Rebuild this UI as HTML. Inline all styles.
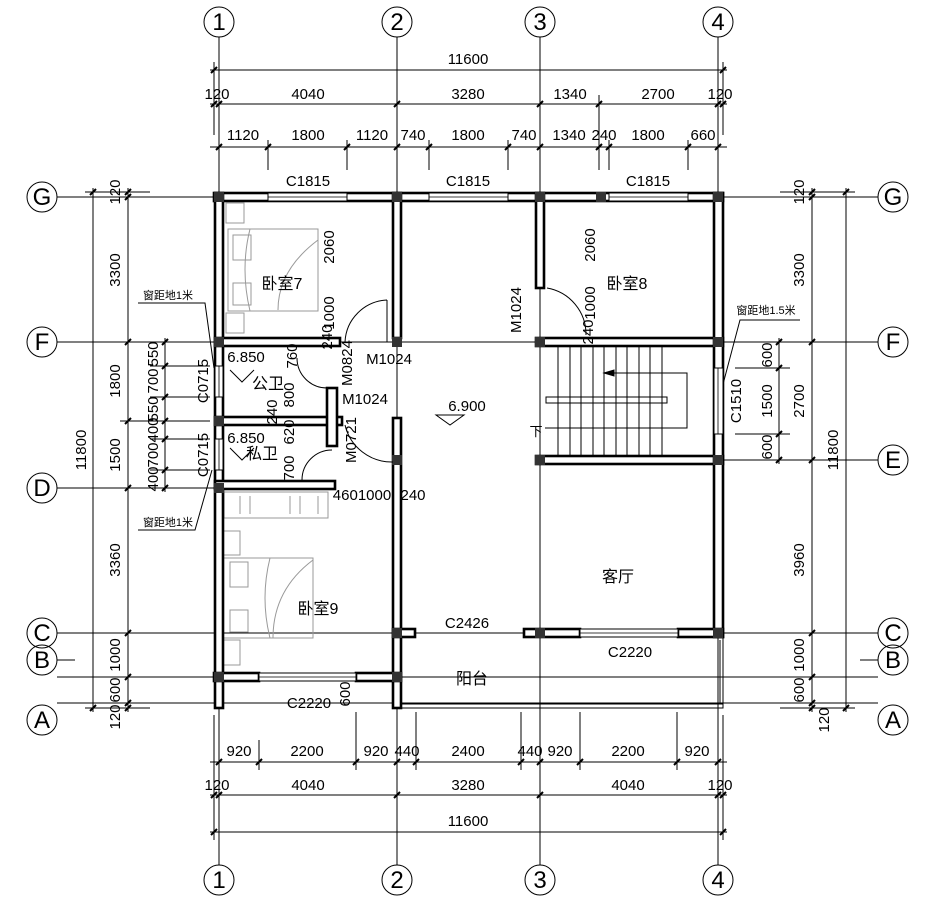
<!DOCTYPE html>
<html><head><meta charset="utf-8"><style>
body{margin:0;background:#fff}
svg{display:block}
text{font-family:"Liberation Sans Narrow","Liberation Sans","Noto Sans CJK SC",sans-serif;fill:#000}
.d{font-size:15px}
.c{font-family:"Liberation Serif",serif;font-size:24px}
.r{font-size:16px}
.s{font-size:11px}
</style></head><body>
<svg width="937" height="922" viewBox="0 0 937 922" xmlns="http://www.w3.org/2000/svg">
<g stroke="#000" stroke-width="1" fill="none">
<line x1="219" y1="37" x2="219" y2="865"/><line x1="397" y1="37" x2="397" y2="865"/>
<line x1="540" y1="37" x2="540" y2="865"/><line x1="718" y1="37" x2="718" y2="865"/>
<line x1="57" y1="197" x2="878" y2="197"/><line x1="57" y1="342" x2="878" y2="342"/>
<line x1="540" y1="460" x2="878" y2="460"/><line x1="57" y1="488" x2="219" y2="488"/>
<line x1="57" y1="633" x2="878" y2="633"/><line x1="57" y1="677" x2="878" y2="677"/>
<line x1="57" y1="703" x2="878" y2="703"/>
<line x1="57" y1="660" x2="75" y2="660"/><line x1="860" y1="660" x2="878" y2="660"/>
<circle cx="219" cy="22" r="15"/><circle cx="397" cy="22" r="15"/><circle cx="540" cy="22" r="15"/><circle cx="718" cy="22" r="15"/>
<circle cx="219" cy="880" r="15"/><circle cx="397" cy="880" r="15"/><circle cx="540" cy="880" r="15"/><circle cx="718" cy="880" r="15"/>
<circle cx="42" cy="197" r="15"/><circle cx="42" cy="342" r="15"/><circle cx="42" cy="488" r="15"/><circle cx="42" cy="633" r="15"/><circle cx="42" cy="660" r="15"/><circle cx="42" cy="720" r="15"/>
<circle cx="893" cy="197" r="15"/><circle cx="893" cy="342" r="15"/><circle cx="893" cy="460" r="15"/><circle cx="893" cy="633" r="15"/><circle cx="893" cy="660" r="15"/><circle cx="893" cy="720" r="15"/>
<line x1="210" y1="70" x2="727" y2="70"/><line x1="210" y1="104" x2="727" y2="104"/><line x1="210" y1="147" x2="727" y2="147"/>
<line x1="214" y1="62" x2="214" y2="135"/><line x1="723" y1="62" x2="723" y2="135"/>
<line x1="268" y1="140" x2="268" y2="170"/><line x1="347" y1="140" x2="347" y2="170"/><line x1="429" y1="140" x2="429" y2="170"/><line x1="508" y1="140" x2="508" y2="170"/><line x1="599" y1="95" x2="599" y2="170"/><line x1="609" y1="140" x2="609" y2="170"/><line x1="688" y1="140" x2="688" y2="170"/>
<line x1="210" y1="762" x2="727" y2="762"/><line x1="210" y1="795" x2="727" y2="795"/><line x1="210" y1="832" x2="727" y2="832"/>
<line x1="214" y1="715" x2="214" y2="840"/><line x1="723" y1="715" x2="723" y2="840"/>
<line x1="259" y1="740" x2="259" y2="770"/><line x1="356" y1="712" x2="356" y2="770"/><line x1="416" y1="712" x2="416" y2="770"/><line x1="521" y1="712" x2="521" y2="770"/><line x1="580" y1="712" x2="580" y2="770"/><line x1="677" y1="712" x2="677" y2="770"/>
<line x1="93" y1="188" x2="93" y2="712"/><line x1="128" y1="188" x2="128" y2="712"/><line x1="165" y1="338" x2="165" y2="492"/>
<line x1="85" y1="192" x2="150" y2="192"/><line x1="85" y1="708" x2="150" y2="708"/>
<line x1="150" y1="366" x2="210" y2="366"/><line x1="150" y1="397" x2="210" y2="397"/><line x1="120" y1="421" x2="210" y2="421"/><line x1="150" y1="439" x2="210" y2="439"/><line x1="150" y1="470" x2="210" y2="470"/>
<line x1="846" y1="188" x2="846" y2="712"/><line x1="812" y1="188" x2="812" y2="712"/><line x1="779" y1="338" x2="779" y2="464"/>
<line x1="780" y1="192" x2="855" y2="192"/><line x1="780" y1="708" x2="855" y2="708"/>
<line x1="735" y1="368" x2="790" y2="368"/><line x1="735" y1="434" x2="790" y2="434"/>
<rect x="393" y="633" width="330" height="75"/><line x1="393" y1="704" x2="723" y2="704"/>
<line x1="720" y1="640" x2="720" y2="704"/>
<polyline points="138,303 205,303 214,368"/><polyline points="138,530 195,530 212,470"/><polyline points="800,320 740,320 722,388"/>
</g>
<g stroke="#000" stroke-width="2">
<path d="M211 73l6-6M211 107l6-6M216 107l6-6M394 107l6-6M537 107l6-6M596 107l6-6M715 107l6-6M720 107l6-6M720 73l6-6
M216 150l6-6M265 150l6-6M344 150l6-6M394 150l6-6M426 150l6-6M505 150l6-6M537 150l6-6M596 150l6-6M606 150l6-6M685 150l6-6M715 150l6-6
M216 765l6-6M256 765l6-6M353 765l6-6M394 765l6-6M413 765l6-6M518 765l6-6M537 765l6-6M577 765l6-6M674 765l6-6M715 765l6-6
M211 798l6-6M216 798l6-6M394 798l6-6M537 798l6-6M715 798l6-6M720 798l6-6M211 835l6-6M720 835l6-6
M90 195l6-6M90 711l6-6M125 195l6-6M125 200l6-6M125 345l6-6M125 424l6-6M125 491l6-6M125 636l6-6M125 680l6-6M125 706l6-6M125 711l6-6
M162 345l6-6M162 369l6-6M162 400l6-6M162 424l6-6M162 442l6-6M162 473l6-6M162 491l6-6
M843 195l6-6M843 711l6-6M809 195l6-6M809 200l6-6M809 345l6-6M809 463l6-6M809 636l6-6M809 680l6-6M809 706l6-6M809 711l6-6
M776 345l6-6M776 371l6-6M776 437l6-6M776 463l6-6"/>
</g>
<g stroke="#999" stroke-width="1" fill="none">
<rect x="228" y="229" width="90" height="82"/><path d="M250 229q-10 40 0 82M318 240q-40 30-40 70"/>
<rect x="233" y="235" width="18" height="25"/><rect x="233" y="283" width="18" height="22"/>
<rect x="226" y="203" width="18" height="20"/><rect x="226" y="313" width="18" height="20"/>
<rect x="223" y="558" width="90" height="80"/><path d="M270 558q-10 40 0 80M313 560q-40 30-40 78"/>
<rect x="230" y="562" width="18" height="25"/><rect x="230" y="610" width="18" height="22"/>
<rect x="223" y="531" width="17" height="24"/><rect x="223" y="640" width="17" height="25"/>
<rect x="224" y="492" width="104" height="26"/><path d="M240 496v18M250 496v18M290 496v18M300 496v18M318 496v18"/>
</g>
<g stroke="#000" stroke-width="2.6" fill="#fff">
<rect x="214" y="193" width="509" height="8"/>
<rect x="215" y="193" width="8" height="515"/>
<rect x="393" y="193" width="8" height="145"/>
<rect x="215" y="338" width="125" height="8"/>
<rect x="215" y="417" width="127" height="8"/>
<rect x="327" y="388" width="10" height="58"/>
<rect x="215" y="481" width="120" height="8"/>
<rect x="393" y="418" width="8" height="290"/>
<rect x="536" y="193" width="8" height="95"/>
<rect x="536" y="338" width="187" height="8"/>
<rect x="536" y="456" width="187" height="8"/>
<rect x="714" y="193" width="9" height="444"/>
<rect x="393" y="629" width="22" height="8"/><rect x="524" y="629" width="56" height="8"/><rect x="678" y="629" width="45" height="8"/>
<rect x="214" y="673" width="45" height="8"/><rect x="356" y="673" width="45" height="8"/>
</g>
<g fill="#fff" stroke="#000" stroke-width="1">
<rect x="268" y="193" width="79" height="8"/><rect x="429" y="193" width="79" height="8"/><rect x="609" y="193" width="79" height="8"/>
<rect x="259" y="673" width="97" height="8"/><rect x="580" y="629" width="98" height="8"/>
<rect x="215" y="366" width="8" height="31"/><rect x="215" y="439" width="8" height="31"/><rect x="714" y="368" width="9" height="66"/>
</g>
<g stroke="#000" stroke-width="0.8">
<path d="M268 197h79M429 197h79M609 197h79M259 677h97M580 633h98M219 366v31M219 439v31M718 368v66M415 633h109"/>
</g>
<g fill="#333">
<rect x="214" y="192" width="10" height="10"/><rect x="392" y="192" width="10" height="10"/><rect x="535" y="192" width="10" height="10"/><rect x="596" y="192" width="10" height="10"/><rect x="713" y="192" width="10" height="10"/>
<rect x="214" y="337" width="10" height="10"/><rect x="392" y="337" width="10" height="10"/><rect x="535" y="337" width="10" height="10"/><rect x="713" y="337" width="10" height="10"/>
<rect x="214" y="416" width="10" height="10"/><rect x="392" y="455" width="10" height="10"/><rect x="535" y="455" width="10" height="10"/><rect x="713" y="455" width="10" height="10"/>
<rect x="214" y="483" width="10" height="10"/><rect x="392" y="628" width="10" height="10"/><rect x="535" y="628" width="10" height="10"/><rect x="713" y="628" width="10" height="10"/>
<rect x="214" y="672" width="10" height="10"/><rect x="392" y="672" width="10" height="10"/>
</g>
<g stroke="#000" stroke-width="1" fill="none">
<path d="M558 347v108M570 347v108M581 347v108M593 347v108M604 347v108M616 347v108M627 347v108M639 347v108M650 347v108M662 347v108"/>
<rect x="546" y="397" width="121" height="6"/>
<polyline points="604,373 687,373 687,428 545,428"/>
<path d="M604 373l10-3v6z" fill="#000"/>
<path d="M345 342A44 44 0 0 1 387 300M387 300v42"/>
<path d="M547 288A47 47 0 0 1 586 335"/>
<path d="M345 425A48 48 0 0 0 393 462"/>
<path d="M302 480A30 30 0 0 1 332 450"/>
<path d="M297 358A30 30 0 0 0 327 388"/>
<path d="M436 415h28l-14 10z"/>
<path d="M230 370l12 12 12-12M230 448l12 12 12-12"/>
</g>
<g class="c" text-anchor="middle">
<text x="219" y="30">1</text><text x="397" y="30">2</text><text x="540" y="30">3</text><text x="718" y="30">4</text>
<text x="219" y="888">1</text><text x="397" y="888">2</text><text x="540" y="888">3</text><text x="718" y="888">4</text>
<text x="42" y="205">G</text><text x="42" y="350">F</text><text x="42" y="496">D</text><text x="42" y="641">C</text><text x="42" y="668">B</text><text x="42" y="728">A</text>
<text x="893" y="205">G</text><text x="893" y="350">F</text><text x="893" y="468">E</text><text x="893" y="641">C</text><text x="893" y="668">B</text><text x="893" y="728">A</text>
</g>
<g class="d" text-anchor="middle">
<text x="468" y="64">11600</text>
<text x="217" y="99">120</text><text x="308" y="99">4040</text><text x="468" y="99">3280</text><text x="570" y="99">1340</text><text x="658" y="99">2700</text><text x="720" y="99">120</text>
<text x="243" y="140">1120</text><text x="308" y="140">1800</text><text x="372" y="140">1120</text><text x="413" y="140">740</text><text x="468" y="140">1800</text><text x="524" y="140">740</text><text x="569" y="140">1340</text><text x="604" y="140">240</text><text x="648" y="140">1800</text><text x="703" y="140">660</text>
<text x="308" y="186">C1815</text><text x="468" y="186">C1815</text><text x="648" y="186">C1815</text>
<text x="239" y="756">920</text><text x="307" y="756">2200</text><text x="376" y="756">920</text><text x="407" y="756">440</text><text x="468" y="756">2400</text><text x="530" y="756">440</text><text x="560" y="756">920</text><text x="628" y="756">2200</text><text x="697" y="756">920</text>
<text x="217" y="790">120</text><text x="308" y="790">4040</text><text x="468" y="790">3280</text><text x="628" y="790">4040</text><text x="720" y="790">120</text>
<text x="468" y="826">11600</text>
<text x="467" y="628">C2426</text><text x="630" y="657">C2220</text><text x="309" y="708">C2220</text>
<text x="246" y="362">6.850</text><text x="246" y="443">6.850</text><text x="467" y="411">6.900</text>
<text x="389" y="364">M1024</text><text x="365" y="404">M1024</text>
<text x="362" y="500">4601000</text><text x="413" y="500">240</text>
</g>
<g class="d" text-anchor="middle" dominant-baseline="middle">
<text transform="translate(116,192) rotate(-90)">120</text><text transform="translate(116,270) rotate(-90)">3300</text><text transform="translate(116,381) rotate(-90)">1800</text><text transform="translate(116,455) rotate(-90)">1500</text><text transform="translate(116,560) rotate(-90)">3360</text><text transform="translate(116,655) rotate(-90)">1000</text><text transform="translate(116,690) rotate(-90)">600</text><text transform="translate(116,717) rotate(-90)">120</text>
<text transform="translate(82,450) rotate(-90)">11800</text>
<text transform="translate(154,354) rotate(-90)">550</text><text transform="translate(154,381) rotate(-90)">700</text><text transform="translate(154,409) rotate(-90)">550</text><text transform="translate(154,430) rotate(-90)">400</text><text transform="translate(154,455) rotate(-90)">700</text><text transform="translate(154,479) rotate(-90)">400</text>
<text transform="translate(204,381) rotate(-90)">C0715</text><text transform="translate(204,455) rotate(-90)">C0715</text>
<text transform="translate(800,192) rotate(-90)">120</text><text transform="translate(800,270) rotate(-90)">3300</text><text transform="translate(800,401) rotate(-90)">2700</text><text transform="translate(800,560) rotate(-90)">3960</text><text transform="translate(800,655) rotate(-90)">1000</text><text transform="translate(800,690) rotate(-90)">600</text><text transform="translate(825,720) rotate(-90)">120</text>
<text transform="translate(834,450) rotate(-90)">11800</text>
<text transform="translate(768,355) rotate(-90)">600</text><text transform="translate(768,401) rotate(-90)">1500</text><text transform="translate(768,447) rotate(-90)">600</text>
<text transform="translate(737,401) rotate(-90)">C1510</text>
<text transform="translate(330,247) rotate(-90)">2060</text><text transform="translate(330,313) rotate(-90)">1000</text><text transform="translate(328,337) rotate(-90)">240</text>
<text transform="translate(591,245) rotate(-90)">2060</text><text transform="translate(591,303) rotate(-90)">1000</text><text transform="translate(589,332) rotate(-90)">240</text>
<text transform="translate(517,310) rotate(-90)">M1024</text><text transform="translate(348,363) rotate(-90)">M0824</text><text transform="translate(352,440) rotate(-90)">M0721</text>
<text transform="translate(293,356) rotate(-90)">760</text><text transform="translate(290,395) rotate(-90)">800</text><text transform="translate(273,412) rotate(-90)">240</text><text transform="translate(290,432) rotate(-90)">620</text><text transform="translate(290,468) rotate(-90)">700</text>
<text transform="translate(346,694) rotate(-90)">600</text>
</g>
<g class="r" text-anchor="middle">
<text x="282" y="289">卧室7</text><text x="627" y="289">卧室8</text><text x="318" y="614">卧室9</text>
<text x="268" y="389">公卫</text><text x="262" y="459">私卫</text>
<text x="618" y="582">客厅</text><text x="472" y="684">阳台</text>
<text x="536" y="436" font-size="13">下</text>
</g>
<g class="s" text-anchor="middle">
<text x="168" y="299">窗距地1米</text><text x="168" y="526">窗距地1米</text><text x="766" y="314">窗距地1.5米</text>
</g>
</svg>
</body></html>
